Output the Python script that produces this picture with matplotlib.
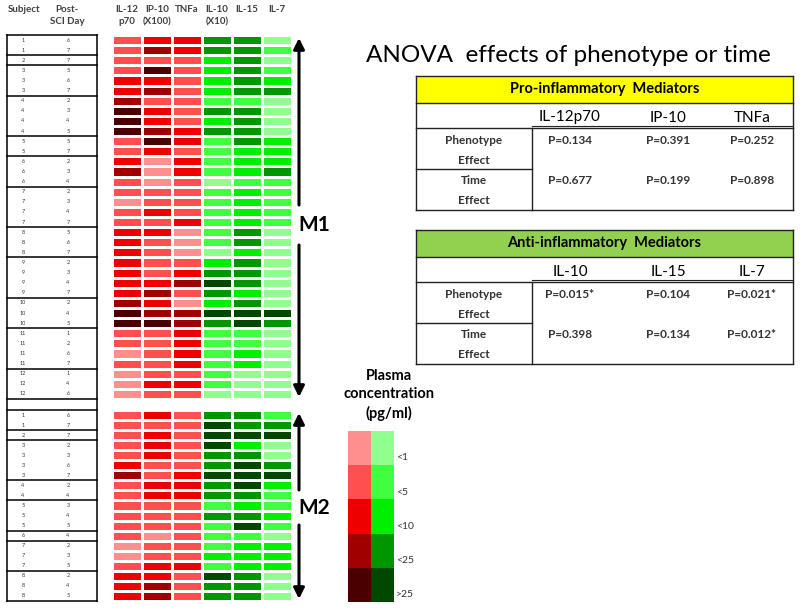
import numpy as np
import matplotlib
matplotlib.use("Agg")
import matplotlib.pyplot as plt
from matplotlib.colors import ListedColormap

plt.rcParams['font.family'] = ['Lato', 'DejaVu Sans']

# subject / post-SCI day for each row
m1_subject = [1,1,2,3,3,3,4,4,4,4,5,5,6,6,6,7,7,7,7,8,8,8,9,9,9,9,10,10,10,11,11,11,11,12,12,12]
m1_day = [6,7,7,5,6,7,2,3,4,5,5,7,2,3,4,2,3,4,7,5,6,7,2,3,4,7,2,4,5,1,2,6,7,1,4,6]
m2_subject = [1,1,2,3,3,3,3,4,4,5,5,5,6,7,7,7,8,8,8]
m2_day = [6,7,7,2,3,6,7,2,4,3,4,5,4,2,3,5,2,4,5]

# concentration class: 0 <1, 1 <5, 2 <10, 3 <25, 4 >25
m1_il12 = [1,1,1,1,2,2,3,4,4,4,1,1,2,3,1,1,0,1,1,2,2,2,2,2,2,2,3,4,4,1,1,0,1,0,0,0]
m1_ip10 = [2,3,1,4,2,3,1,2,2,3,4,2,0,0,0,1,1,2,1,2,1,1,1,1,2,3,2,3,4,1,1,1,1,1,2,1]
m1_tnfa = [2,2,1,1,1,1,1,1,1,2,2,1,2,2,1,1,1,1,2,0,0,0,1,2,3,1,0,3,3,2,2,2,2,1,2,1]
m1_il10 = [3,3,2,2,2,2,1,3,2,3,1,1,1,1,0,1,1,1,1,1,1,0,2,3,4,3,2,4,3,1,1,1,1,1,1,0]
m1_il15 = [3,3,3,3,3,3,1,3,3,3,3,2,2,2,1,2,2,2,2,3,3,2,3,3,3,2,3,4,4,1,1,2,2,0,0,0]
m1_il7 = [0,1,0,1,2,3,0,0,0,0,2,2,2,3,1,1,1,1,1,0,0,0,0,0,0,0,0,4,3,0,0,0,0,0,0,0]

m2_il12 = [1,1,1,1,1,2,3,1,1,1,1,1,1,0,0,1,2,2,2]
m2_ip10 = [2,1,2,2,2,1,1,2,2,1,1,1,0,1,1,2,2,3,3]
m2_tnfa = [1,1,1,1,1,1,2,2,2,1,1,1,1,1,1,2,1,1,1]
m2_il10 = [3,4,4,4,3,3,4,3,3,1,3,1,1,1,2,1,4,3,3]
m2_il15 = [3,3,4,2,3,4,4,4,3,2,3,4,1,2,2,2,3,3,3]
m2_il7 = [1,3,4,0,0,3,4,2,1,1,2,1,0,2,2,2,0,0,0]

col_labels = ['IL-12\np70', 'IP-10\n(X100)', 'TNFa', 'IL-10\n(X10)', 'IL-15', 'IL-7']
legend_labels = ['<1', '<5', '<10', '<25', '>25']

pro_names = ['IL-12p70', 'IP-10', 'TNFa']
pro_pheno = ['P=0.134', 'P=0.391', 'P=0.252']
pro_time = ['P=0.677', 'P=0.199', 'P=0.898']
anti_names = ['IL-10', 'IL-15', 'IL-7']
anti_pheno = ['P=0.015*', 'P=0.104', 'P=0.021*']
anti_time = ['P=0.398', 'P=0.134', 'P=0.012*']

reds = ['#ff8f8f', '#ff4f4f', '#ee0000', '#a00000', '#4a0000']
greens = ['#90ff90', '#40ff40', '#00ee00', '#009600', '#004800']
red_cmap = ListedColormap(reds)
green_cmap = ListedColormap(greens)

W, H = 800, 609
fig = plt.figure(figsize=(W/100, H/100), dpi=100)

def px_axes(x0, y0, x1, y1):
    return fig.add_axes([x0/W, 1-y1/H, (x1-x0)/W, (y1-y0)/H])

def draw_heat(axh, cols):
    n = len(cols[0])
    red = np.array(cols[:3]).T
    green = np.array(cols[3:]).T
    axh.pcolormesh(np.arange(4), np.arange(n+1), red, cmap=red_cmap, vmin=-0.5, vmax=4.5,
                   edgecolors='white', linewidth=0.75)
    axh.pcolormesh(np.arange(3, 7), np.arange(n+1), green, cmap=green_cmap, vmin=-0.5, vmax=4.5,
                   edgecolors='white', linewidth=0.75)
    axh.set_xlim(0, 6)
    axh.set_ylim(n, 0)
    axh.axis('off')

ax1 = px_axes(112, 35, 292, 399)
draw_heat(ax1, [m1_il12, m1_ip10, m1_tnfa, m1_il10, m1_il15, m1_il7])
ax2 = px_axes(112, 410, 292, 601)
draw_heat(ax2, [m2_il12, m2_ip10, m2_tnfa, m2_il10, m2_il15, m2_il7])

# overlay in pixel coords for table, text, arrows
ax = fig.add_axes([0, 0, 1, 1])
ax.set_xlim(0, W)
ax.set_ylim(H, 0)
ax.axis('off')

hdr = dict(fontsize=7, fontweight='bold', color='#404040', va='top', ha='center', linespacing=1.5)
ax.text(24, 5, 'Subject', **hdr)
ax.text(67, 5, 'Post-\nSCI Day', **hdr)
for i, lab in enumerate(col_labels):
    ax.text(112 + 30*i + 15, 5, lab, **hdr)

# subject/day table
def draw_rows(subj, day, top, bottom):
    n = len(subj)
    pitch = (bottom - top) / n
    for i in range(n):
        yc = top + pitch*(i + 0.5)
        ax.text(23, yc, str(subj[i]), fontsize=4, ha='center', va='center', color='#333333')
        ax.text(68, yc, str(day[i]), fontsize=4, ha='center', va='center', color='#333333')
        if i == 0 or subj[i] != subj[i-1]:
            ax.plot([7, 97], [top + pitch*i]*2, color='black', lw=1.1)
    ax.plot([7, 97], [bottom, bottom], color='black', lw=1.1)

draw_rows(m1_subject, m1_day, 35, 399)
draw_rows(m2_subject, m2_day, 410, 601)
ax.plot([7, 7], [35, 601], color='black', lw=1.1)
ax.plot([97, 97], [35, 601], color='black', lw=1.1)

# M1 / M2 arrows
arr = dict(arrowstyle='-|>', color='black', lw=2.2, mutation_scale=16, shrinkA=0, shrinkB=0)
ax.annotate('', xy=(299, 38), xytext=(299, 205), arrowprops=arr)
ax.annotate('', xy=(299, 397), xytext=(299, 245), arrowprops=arr)
ax.text(314, 225, 'M1', fontsize=15, fontweight='bold', ha='center', va='center')
ax.annotate('', xy=(299, 413), xytext=(299, 490), arrowprops=arr)
ax.annotate('', xy=(299, 599), xytext=(299, 525), arrowprops=arr)
ax.text(314, 508, 'M2', fontsize=15, fontweight='bold', ha='center', va='center')

ax.text(568, 55, 'ANOVA  effects of phenotype or time', fontsize=17.5, ha='center', va='center')

def draw_table(top, band, title, names, pheno, timev):
    l, r, split = 416, 793, 532
    y_band = top + 27
    y_hdr = y_band + 25
    y_mid = y_hdr + 41
    y_bot = y_mid + 41
    ax.add_patch(plt.Rectangle((l, top), r-l, y_band-top, facecolor=band, edgecolor='none'))
    ax.text((l+r)/2, (top+y_band)/2, title, fontsize=10.5, fontweight='bold', ha='center', va='center')
    for yy in [top, y_band, y_bot]:
        ax.plot([l, r], [yy, yy], color='#222222', lw=1)
    ax.plot([l, r], [y_hdr, y_hdr], color='#222222', lw=1)
    ax.plot([split, r], [y_hdr-2, y_hdr-2], color='#222222', lw=0.8)
    ax.plot([l, split], [y_mid, y_mid], color='#222222', lw=1)
    ax.plot([l, l], [top, y_bot], color='#222222', lw=1)
    ax.plot([r, r], [top, y_bot], color='#222222', lw=1)
    ax.plot([split, split], [y_hdr, y_bot], color='#222222', lw=1)
    xs = [570, 668, 752]
    for x, nm, p1, p2 in zip(xs, names, pheno, timev):
        ax.text(x, (y_band+y_hdr)/2 + 2, nm, fontsize=11, ha='center', va='center')
        ax.text(x, y_hdr + 12, p1, fontsize=8.5, fontweight='bold', color='#333333', ha='center', va='center')
        ax.text(x, y_mid + 12, p2, fontsize=8.5, fontweight='bold', color='#333333', ha='center', va='center')
    for y0, lab in [(y_hdr, 'Phenotype'), (y_mid, 'Time')]:
        ax.text(474, y0 + 12, lab, fontsize=8.5, fontweight='bold', color='#333333', ha='center', va='center')
        ax.text(474, y0 + 32, 'Effect', fontsize=8.5, fontweight='bold', color='#333333', ha='center', va='center')

draw_table(76, '#ffff00', 'Pro-inflammatory  Mediators', pro_names, pro_pheno, pro_time)
draw_table(230, '#92d050', 'Anti-inflammatory  Mediators', anti_names, anti_pheno, anti_time)

# legend
ax.text(389, 395, 'Plasma\nconcentration\n(pg/ml)', fontsize=10.5, fontweight='bold', ha='center',
        va='center', linespacing=1.35)
axl = px_axes(348, 431, 394, 602)
levels = np.arange(len(legend_labels))
axl.pcolormesh([0, 1], np.arange(len(levels)+1), levels[:, None], cmap=red_cmap, vmin=-0.5, vmax=4.5)
axl.pcolormesh([1, 2], np.arange(len(levels)+1), levels[:, None], cmap=green_cmap, vmin=-0.5, vmax=4.5)
axl.set_xlim(0, 2)
axl.set_ylim(len(levels), 0)
axl.axis('off')
for i, lab in enumerate(legend_labels):
    ax.text(396, 431 + 34.2*i + 27, lab, fontsize=7.5, ha='left', va='center', color='#333333')

fig.savefig('out.png', dpi=100, facecolor='white')
